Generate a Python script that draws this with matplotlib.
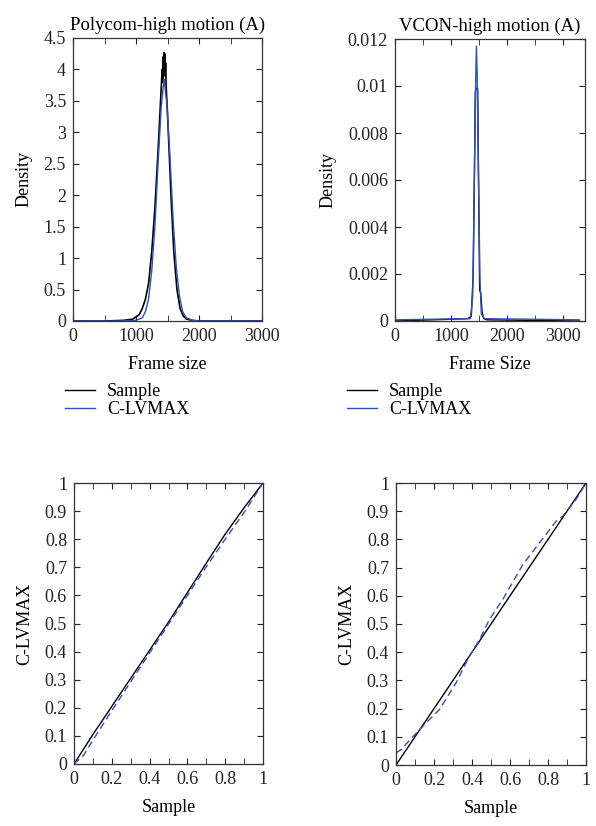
import matplotlib
matplotlib.use("Agg")
import matplotlib.pyplot as plt
from matplotlib.lines import Line2D
from matplotlib.ticker import MultipleLocator

plt.rcParams['font.family'] = ['Liberation Serif', 'DejaVu Serif']
plt.rcParams['font.size'] = 13

BLUE = '#2f52b4'

# Polycom density (frame size, density)
poly_x = [0, 500, 800, 950, 1050, 1100, 1150, 1200, 1250, 1300, 1350, 1380, 1400, 1415, 1425,
          1432, 1440, 1445, 1450, 1455, 1462, 1470, 1480, 1500, 1530, 1560, 1600, 1650, 1700,
          1750, 1800, 1900, 2000, 3000]
poly_sample = [0, 0, 0.01, 0.03, 0.1, 0.2, 0.35, 0.6, 1.1, 1.8, 2.7, 3.3, 3.7, 4.0, 3.8,
               4.2, 3.9, 4.27, 4.0, 4.25, 3.9, 4.1, 3.7, 3.3, 2.6, 1.9, 1.1, 0.5, 0.2,
               0.08, 0.03, 0.01, 0, 0]
poly_fit_x = [0, 700, 1000, 1100, 1150, 1200, 1250, 1300, 1350, 1400, 1445, 1490, 1540,
              1590, 1640, 1690, 1740, 1800, 1900, 2000, 3000]
poly_fit = [0, 0, 0.01, 0.05, 0.15, 0.35, 0.8, 1.5, 2.5, 3.4, 3.85, 3.45, 2.6,
            1.6, 0.85, 0.4, 0.15, 0.05, 0.01, 0, 0]

# VCON density
vcon_x = [0, 1300, 1365, 1400, 1420, 1437, 1450, 1465, 1479, 1495, 1515, 1535, 1557, 1587, 1650, 3300]
vcon_sample = [0, 0.0001, 0.0002, 0.002, 0.006, 0.0097, 0.0099, 0.0099, 0.0099, 0.006, 0.0013,
               0.0012, 0.0004, 0.0001, 0.00005, 0]
vcon_fit_x = [0, 1350, 1390, 1420, 1445, 1458, 1470, 1495, 1520, 1545, 1600, 3300]
vcon_fit = [0.00005, 0.0001, 0.001, 0.006, 0.0105, 0.0117, 0.0105, 0.006, 0.0018, 0.0003,
            0.0001, 0.00005]

# Q-Q data
poly_qq_bx = [0, 0.1, 0.3, 0.5, 0.7, 0.8, 0.9, 1.0]
poly_qq_by = [0, 0.105, 0.305, 0.505, 0.715, 0.818, 0.912, 1.0]
poly_qq_x = [0, 0.05, 0.1, 0.2, 0.4, 0.6, 0.7, 0.8, 0.9, 1.0]
poly_qq_y = [0, 0.03, 0.085, 0.19, 0.395, 0.6, 0.702, 0.8, 0.895, 1.0]
vcon_qq_bx = [0, 1.0]
vcon_qq_by = [0, 1.0]
vcon_qq_x = [0, 0.026, 0.088, 0.158, 0.228, 0.316, 0.386, 0.439, 0.491, 0.561, 0.667,
             0.754, 0.842, 0.877, 0.947, 1.0]
vcon_qq_y = [0.043, 0.054, 0.10, 0.149, 0.196, 0.291, 0.385, 0.444, 0.515, 0.586, 0.71,
             0.787, 0.864, 0.882, 0.941, 1.0]

fig = plt.figure(figsize=(5.96, 8.26), dpi=100)
W, H = 596, 826


def px_axes(l, t, r, b):
    return fig.add_axes([l / W, 1 - b / H, (r - l) / W, (b - t) / H])


def style(ax):
    ax.tick_params(which='both', direction='in', top=True, right=True, labelsize=13,
                   colors='#222222', pad=5)
    ax.tick_params(which='major', length=4)
    ax.tick_params(which='minor', length=4)
    for s in ax.spines.values():
        s.set_color('#333333')
        s.set_linewidth(0.9)


fmt = plt.FuncFormatter(lambda v, p: '%g' % round(v, 4))

ax1 = px_axes(73, 38, 262, 321)
ax1.plot(poly_x, poly_sample, color='black', lw=1.2)
ax1.plot(poly_fit_x, poly_fit, color=BLUE, lw=1.0)
ax1.set_xlim(0, 3000)
ax1.set_ylim(0, 4.5)
ax1.xaxis.set_major_locator(MultipleLocator(1000))
ax1.xaxis.set_minor_locator(MultipleLocator(500))
ax1.yaxis.set_major_locator(MultipleLocator(0.5))
ax1.yaxis.set_major_formatter(fmt)
ax1.set_xlabel('Frame size', labelpad=8)
ax1.set_ylabel('Density', labelpad=8)
ax1.set_title('Polycom-high motion (A)', fontsize=13.5, pad=6)
style(ax1)

ax2 = px_axes(395, 39, 585, 321)
ax2.plot(vcon_x, vcon_sample, color='black', lw=1.0)
ax2.plot(vcon_fit_x, vcon_fit, color=BLUE, lw=1.0)
ax2.set_xlim(0, 3400)
ax2.set_ylim(0, 0.012)
ax2.xaxis.set_major_locator(MultipleLocator(1000))
ax2.xaxis.set_minor_locator(MultipleLocator(500))
ax2.yaxis.set_major_locator(MultipleLocator(0.002))
ax2.yaxis.set_major_formatter(fmt)
ax2.set_xlabel('Frame Size', labelpad=8)
ax2.set_ylabel('Density', labelpad=8)
ax2.set_title('VCON-high motion (A)', fontsize=13.5, pad=6)
style(ax2)

handles = [Line2D([], [], color='black', lw=1.0), Line2D([], [], color=BLUE, lw=1.0)]
for xl in (65, 347):
    fig.legend(handles, ['Sample', 'C-LVMAX'], loc='upper left',
               bbox_to_anchor=(xl / W, 1 - 383 / H), frameon=False, fontsize=13,
               handlelength=1.67, handletextpad=0.65, labelspacing=0.05,
               borderaxespad=0, borderpad=0)

ax3 = px_axes(74, 483, 263, 764)
ax3.plot(poly_qq_bx, poly_qq_by, color='black', lw=1.0)
ax3.plot(poly_qq_x, poly_qq_y, color=BLUE, lw=1.0, dashes=(5, 3))
ax4 = px_axes(396, 483, 586, 765)
ax4.plot(vcon_qq_bx, vcon_qq_by, color='black', lw=1.0)
ax4.plot(vcon_qq_x, vcon_qq_y, color=BLUE, lw=1.0, dashes=(5, 3))
for ax in (ax3, ax4):
    ax.set_xlim(0, 1)
    ax.set_ylim(0, 1)
    ax.xaxis.set_major_locator(MultipleLocator(0.2))
    ax.xaxis.set_minor_locator(MultipleLocator(0.1))
    ax.yaxis.set_major_locator(MultipleLocator(0.1))
    ax.xaxis.set_major_formatter(fmt)
    ax.yaxis.set_major_formatter(fmt)
    ax.set_xlabel('Sample', labelpad=8)
    ax.set_ylabel('C-LVMAX', labelpad=8)
    style(ax)

fig.savefig('out.png', dpi=100)
